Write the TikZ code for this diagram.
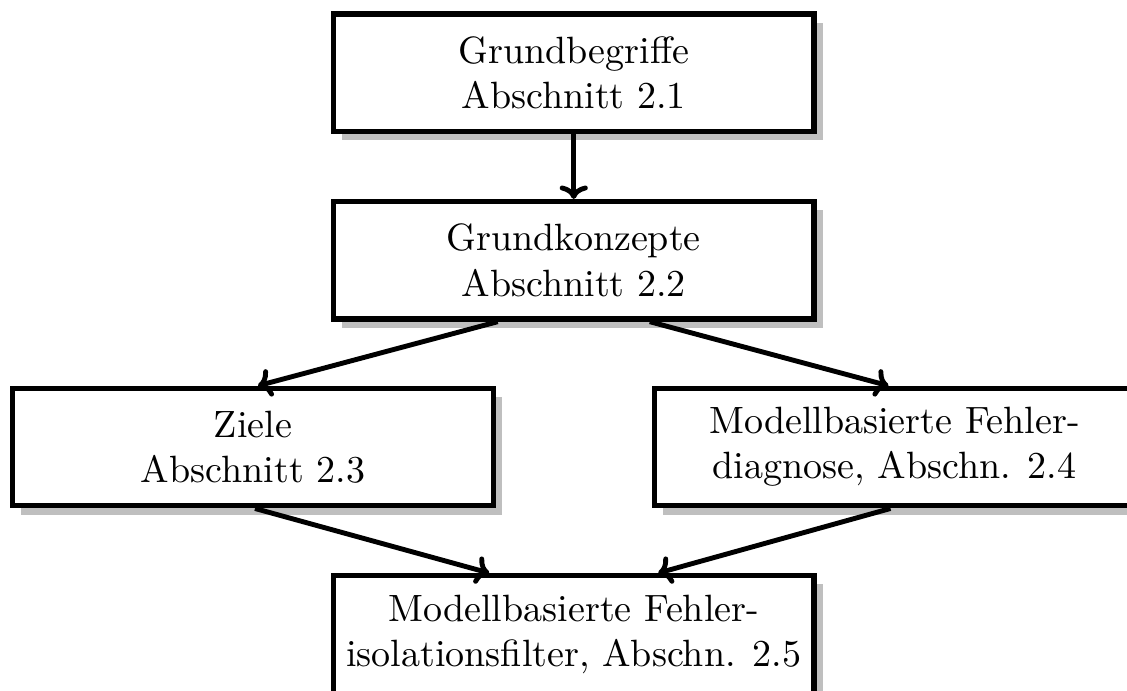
\documentclass[tikz,border=0pt]{standalone}
\usetikzlibrary{calc,shadows,arrows.meta}
\begin{document}
\begin{tikzpicture}[x=0.2656pt,y=-0.2656pt,
  chapbox/.style={draw, fill=white, line width=1.4pt, align=center,
    minimum width=127.6pt, minimum height=31.2pt, inner sep=0pt,
    font=\fontsize{10.1}{12}\selectfont,
    drop shadow={shadow xshift=2.3pt, shadow yshift=-2.3pt, fill=black!25, opacity=1}},
  link/.style={-{To[scale=0.8]}, line width=1.3pt}]
  \useasboundingbox (0,0) rectangle (1127,690);

  \node[chapbox] (g1) at (573.75,72.75) {Grundbegriffe\\Abschnitt 2.1};
  \node[chapbox] (g2) at (573.75,260.3) {Grundkonzepte\\Abschnitt 2.2};
  \node[chapbox] (z)  at (253,447.1) {Ziele\\Abschnitt 2.3};
  \node[chapbox] (m)  at (894.5,447.1) {Modellbasierte Fehler-\\diagnose, Abschn. 2.4};
  \node[chapbox] (f)  at (573.75,634.4) {Modellbasierte Fehler-\\isolationsfilter, Abschn. 2.5};

  \draw[link] (g1.south) -- (g2.north);
  \draw[link] ($(g2.south)+(-76,0)$) -- ($(z.north)+(5,0)$);
  \draw[link] ($(g2.south)+(76,0)$) -- ($(m.north)+(-6,0)$);
  \draw[link] ($(z.south)+(2,0)$) -- ($(f.north)+(-84.5,0)$);
  \draw[link] ($(m.south)+(-4,0)$) -- ($(f.north)+(84.5,0)$);
\end{tikzpicture}
\end{document}
